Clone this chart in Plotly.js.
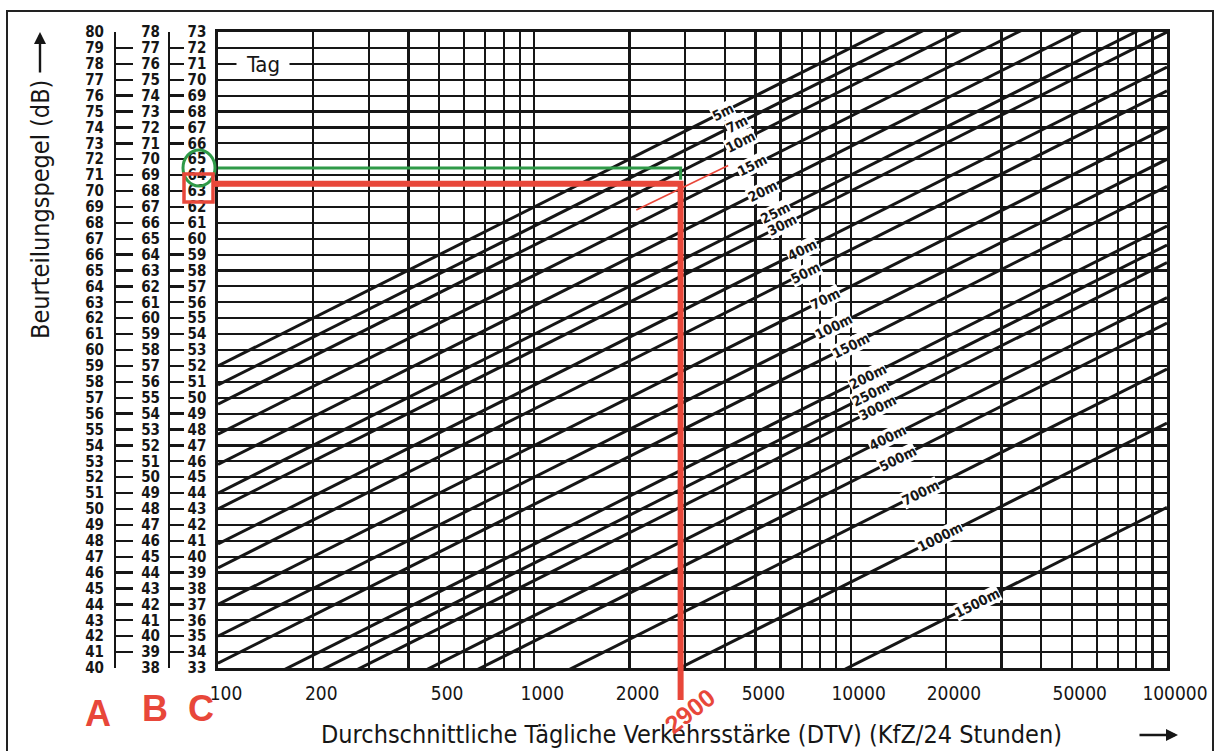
<!DOCTYPE html>
<html>
<head>
<meta charset="utf-8">
<script src="https://cdn.plot.ly/plotly-3.0.1.min.js"></script>
<style>html,body{margin:0;padding:0;background:#fff;}#chart{width:1219px;height:751px;}</style>
</head>
<body>
<div id="chart"></div>
<script>
// ---------- data ----------
const scaleA = [40,41,42,43,44,45,46,47,48,49,50,51,52,53,54,55,56,57,58,59,60,61,62,63,64,65,66,67,68,69,70,71,72,73,74,75,76,77,78,79,80];
const scaleB = [38,39,40,41,42,43,44,45,46,47,48,49,50,51,52,53,54,55,56,57,58,59,60,61,62,63,64,65,66,67,68,69,70,71,72,73,74,75,76,77,78];
const scaleC = [33,34,35,36,37,38,39,40,41,42,43,44,45,46,47,48,49,50,51,52,53,54,55,56,57,58,59,60,61,62,63,64,65,66,67,68,69,70,71,72,73];
const dtvGrid = [100,200,300,400,500,600,700,800,900,1000,2000,3000,4000,5000,6000,7000,8000,9000,10000,20000,30000,40000,50000,60000,70000,80000,90000,100000];
const dtvLabels = [100,200,500,1000,2000,5000,10000,20000,50000,100000];
const distances = ['5m','7m','10m','15m','20m','25m','30m','40m','50m','70m','100m','150m','200m','250m','300m','400m','500m','700m','1000m','1500m'];
const levelAt100 = [52.0,50.8,49.6,47.7,45.8,44.0,43.0,40.8,39.3,37.0,35.0,33.3,30.8,29.6,28.5,26.3,24.7,21.8,18.4,13.1];
const levelAt100000 = [82.0,80.8,79.6,77.7,75.8,74.0,73.0,70.8,69.3,67.0,65.0,63.3,60.8,59.6,58.5,56.3,54.7,51.8,48.4,43.1];
const labelDTV = [3950,4380,4470,4910,5280,5770,6070,7020,7180,8300,8800,9960,11270,11520,12120,13030,14020,16570,19180,25090];
const readingDTV = 2900;
const greenLevel = 64.45;
const greenDropLevel = 63.7;
const redLevel = 63.45;
const redGuideDTV = [2100, 4100];
const redGuideLevel = [61.8, 64.6];

// ---------- layout helpers ----------
const W = 1219, H = 751;
const px = v => v / W;
const py = v => 1 - v / H;
const FAM = '"DejaVu Sans Condensed", "Liberation Sans Narrow", "DejaVu Sans", sans-serif';
const INK = '#161616';
const RED = '#e8473a';
const GREEN = '#2f9a48';

const traces = [];
distances.forEach((d, i) => {
  traces.push({
    type: 'scatter', mode: 'lines', x: [100, 100000], y: [levelAt100[i], levelAt100000[i]],
    line: {color: INK, width: 3}, hoverinfo: 'skip', showlegend: false
  });
});
traces.push({type:'scatter', mode:'lines', x:[100,100], y:[scaleB[0], scaleB[scaleB.length-1]], yaxis:'y2', line:{width:0}, opacity:0, hoverinfo:'skip', showlegend:false});
traces.push({type:'scatter', mode:'lines', x:[100,100], y:[scaleA[0], scaleA[scaleA.length-1]], yaxis:'y3', line:{width:0}, opacity:0, hoverinfo:'skip', showlegend:false});
traces.push({type:'scatter', mode:'lines', x:[100, readingDTV, readingDTV], y:[greenLevel, greenLevel, greenDropLevel],
  line:{color: GREEN, width: 3}, hoverinfo:'skip', showlegend:false});
traces.push({type:'scatter', mode:'lines', x: redGuideDTV, y: redGuideLevel,
  line:{color: RED, width: 1.6}, hoverinfo:'skip', showlegend:false});
traces.push({type:'scatter', mode:'lines', x:[100, readingDTV, readingDTV], y:[redLevel, redLevel, scaleC[0]],
  line:{color: RED, width: 6}, hoverinfo:'skip', showlegend:false});

const annotations = [];
const angle = -26.7;
distances.forEach((d, i) => {
  const lx = Math.log10(labelDTV[i]);
  const ly = levelAt100[i] + (levelAt100000[i] - levelAt100[i]) * (lx - 2) / 3;
  annotations.push({x: lx, y: ly, xref:'x', yref:'y', xanchor:'center', yanchor:'middle',
    text: '<b>' + d + '</b>', showarrow:false,
    textangle: angle, bgcolor:'#ffffff', borderpad: 0,
    font:{family: FAM, size: 14, color: INK}});
});
annotations.push({x: px(263), y: 71, xref:'paper', yref:'y', xanchor:'center', yanchor:'middle', text:'Tag', showarrow:false,
  bgcolor:'#ffffff', borderpad:0, width: 52, height: 26, font:{family: FAM, size: 22, color: INK}});
annotations.push({x: px(40), y: py(210), xref:'paper', yref:'paper', xanchor:'center', yanchor:'middle',
  text:'Beurteilungspegel (dB)', showarrow:false,
  textangle:-90, font:{family: FAM, size: 25, color: INK}});
annotations.push({x: px(40), y: py(32), xref:'paper', yref:'paper', ax: px(40), ay: py(74), axref:'paper', ayref:'paper',
  text:'', showarrow:true, arrowhead:2, arrowsize:1, arrowwidth:2.4, arrowcolor: INK});
annotations.push({x: px(691), y: py(734), xref:'paper', yref:'paper', xanchor:'center', yanchor:'middle',
  text:'Durchschnittliche Tägliche Verkehrsstärke (DTV) (KfZ/24 Stunden)', showarrow:false,
  font:{family: FAM, size: 25, color: INK}});
annotations.push({x: px(1178), y: py(735), xref:'paper', yref:'paper', ax: px(1138), ay: py(735), axref:'paper', ayref:'paper',
  text:'', showarrow:true, arrowhead:2, arrowsize:1, arrowwidth:2.4, arrowcolor: INK});
annotations.push({x: Math.log10(readingDTV), y: py(711), xref:'x', yref:'paper', xanchor:'center', yanchor:'middle',
  xshift: 9, text:'<b>' + readingDTV + '</b>', showarrow:false,
  textangle:-38, font:{family:'"Liberation Sans", sans-serif', size: 25, color: RED}});
[['A',98,713],['B',155,708],['C',201,708]].forEach(([t,x,y]) => {
  annotations.push({x: px(x), y: py(y), xref:'paper', yref:'paper', xanchor:'center', yanchor:'middle',
    text:'<b>'+t+'</b>', showarrow:false,
    font:{family:'"Liberation Sans", sans-serif', size: 36, color: RED}});
});

const shapes = [
  {type:'rect', xref:'paper', yref:'paper', x0: px(7), x1: px(1213), y0: py(770), y1: py(11), line:{color:'#222', width:2}},
  {type:'circle', xref:'paper', yref:'paper', x0: px(183), x1: px(215), y0: py(186), y1: py(150), line:{color: GREEN, width: 3}},
  {type:'rect', xref:'paper', yref:'paper', x0: px(184), x1: px(213), y0: py(202), y1: py(174), line:{color: RED, width: 3.5}},
  {type:'line', xref:'x', yref:'paper', x0: readingDTV, x1: readingDTV, y0: py(700), y1: py(668), line:{color: RED, width: 6}},
  {type:'line', xref:'paper', yref:'y', x0: px(212), x1: px(219), y0: redLevel, y1: redLevel, line:{color: RED, width: 6}}
];

const tickTextX = dtvGrid.map(v => dtvLabels.includes(v) ? String(v) : '');
const scaleFont = {family: FAM, size: 15, color: INK, weight: 'bold'};

const layout = {
  width: W, height: H,
  margin: {l:0, r:0, t:0, b:0},
  paper_bgcolor: '#ffffff', plot_bgcolor: '#ffffff',
  showlegend: false,
  font: {family: FAM, color: INK},
  xaxis: {
    type:'log', range:[2,5], domain:[px(218), px(1167)], anchor:'y',
    tickmode:'array', tickvals: dtvGrid, ticktext: tickTextX,
    showgrid:true, gridcolor: INK, gridwidth: 2.2,
    showline:true, linecolor: INK, linewidth: 2.6, mirror: true,
    ticks:'', ticklabelstandoff: 7, ticklabelshift: 8,
    tickfont:{family: FAM, size: 19, color: INK}, zeroline:false, fixedrange:true
  },
  yaxis: {
    range:[scaleC[0], scaleC[scaleC.length-1]], domain:[py(668), py(32)], anchor:'x',
    tickmode:'array', tickvals: scaleC, ticktext: scaleC.map(String),
    showgrid:true, gridcolor: INK, gridwidth: 2.2,
    showline:true, linecolor: INK, linewidth: 2.6, mirror: true,
    ticks:'', ticklabelstandoff: 6,
    tickfont: scaleFont, zeroline:false, fixedrange:true
  },
  yaxis2: {
    range:[scaleB[0], scaleB[scaleB.length-1]], overlaying:'y', anchor:'free', position: px(169), side:'left',
    tickmode:'array', tickvals: scaleB, ticktext: scaleB.map(String),
    showgrid:false, showline:true, linecolor: INK, linewidth: 2.4,
    ticks:'inside', ticklen: 14, tickwidth: 2.4, tickcolor: INK, ticklabelstandoff: 5,
    tickfont: scaleFont, zeroline:false, fixedrange:true
  },
  yaxis3: {
    range:[scaleA[0], scaleA[scaleA.length-1]], overlaying:'y', anchor:'free', position: px(115), side:'left',
    tickmode:'array', tickvals: scaleA, ticktext: scaleA.map(String),
    showgrid:false, showline:true, linecolor: INK, linewidth: 2.4,
    ticks:'inside', ticklen: 17, tickwidth: 2.4, tickcolor: INK, ticklabelstandoff: 7,
    tickfont: scaleFont, zeroline:false, fixedrange:true
  },
  annotations: annotations,
  shapes: shapes
};

Plotly.newPlot('chart', traces, layout, {staticPlot: true, displayModeBar: false});
</script>
</body>
</html>
